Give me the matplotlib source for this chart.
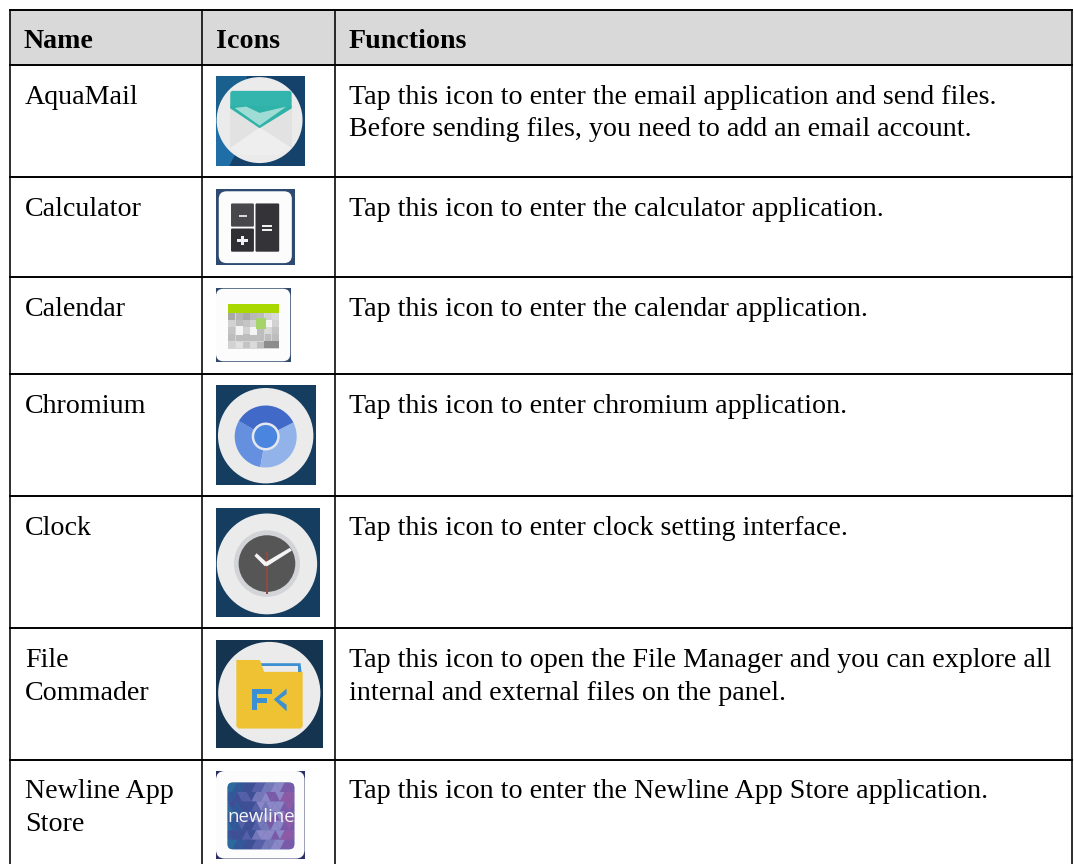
import matplotlib
matplotlib.use("Agg")
import matplotlib.pyplot as plt
from matplotlib.patches import Rectangle, Circle, Ellipse, Polygon, Wedge, FancyBboxPatch
from matplotlib.transforms import Affine2D

############## TABLE CONTENT ##############
headers = ["Name", "Icons", "Functions"]
names = ["AquaMail", "Calculator", "Calendar", "Chromium", "Clock",
         "File\nCommader", "Newline App\nStore"]
functions = [
    "Tap this icon to enter the email application and send files.\nBefore sending files, you need to add an email account.",
    "Tap this icon to enter the calculator application.",
    "Tap this icon to enter the calendar application.",
    "Tap this icon to enter chromium application.",
    "Tap this icon to enter clock setting interface.",
    "Tap this icon to open the File Manager and you can explore all\ninternal and external files on the panel.",
    "Tap this icon to enter the Newline App Store application.",
]

col_edges = [10, 202, 335, 1071.5]
row_edges = [10, 65, 177, 277, 374, 496, 628, 759.5, 870]
text_x = [25, 217, 349]
header_x = [24, 216, 349]

# x0, y0, x1, y1 of each icon picture
icon_boxes = [
    (216, 76, 305, 166),
    (216, 189, 295, 265),
    (216, 288, 291, 362),
    (216, 385, 316, 485),
    (216, 508, 320, 617),
    (216, 640, 323, 748),
    (216, 771, 305, 859),
]

FONT = "Liberation Serif"
FS = 20.2
LINE = 32.5

fig = plt.figure(figsize=(10.74, 8.64), dpi=100, facecolor="white")
ax = fig.add_axes([0, 0, 1, 1])
ax.set_xlim(0, 1074)
ax.set_ylim(864, 0)
ax.axis("off")


def unit(box):
    # icon shapes are drawn in 0..1 inside their box
    x0, y0, x1, y1 = box
    return Affine2D().scale(x1 - x0, y1 - y0).translate(x0, y0) + ax.transData


def add(tr, patch):
    patch.set_transform(tr)
    patch.set_linewidth(0)
    ax.add_patch(patch)
    return patch


def rrect(x, y, w, h, r, color):
    return FancyBboxPatch((x + r, y + r), w - 2 * r, h - 2 * r,
                          boxstyle=f"round,pad={r},rounding_size={r}", fc=color)


############## ICONS ##############
def aquamail(tr):
    add(tr, Rectangle((0, 0), 1, 1, fc="#15426b"))
    add(tr, Polygon([(0, 0), (0.35, 0), (0.2, 0.6), (0, 0.6)], fc="#19608f"))
    add(tr, Polygon([(0, 0.5), (0.3, 0.7), (0.15, 1), (0, 1)], fc="#1f6ea8"))
    add(tr, Ellipse((0.49, 0.49), 0.965, 0.955, fc="#ebebeb"))
    add(tr, Polygon([(0.16, 0.34), (0.85, 0.34), (0.85, 0.8), (0.16, 0.8)], fc="#e2e2e2"))
    add(tr, Polygon([(0.16, 0.8), (0.49, 0.57), (0.85, 0.8), (0.68, 0.88), (0.30, 0.88)], fc="#eeeeee"))
    add(tr, rrect(0.16, 0.165, 0.69, 0.2, 0.03, "#33b5ae"))
    add(tr, Polygon([(0.16, 0.33), (0.85, 0.33), (0.85, 0.36), (0.49, 0.58), (0.16, 0.36)], fc="#2fb3a8"))
    add(tr, Polygon([(0.21, 0.355), (0.34, 0.34), (0.49, 0.41), (0.66, 0.37), (0.79, 0.34), (0.49, 0.55)], fc="#a0dcd6"))


def calculator(tr):
    add(tr, Rectangle((0, 0), 1, 1, fc="#2d4a70"))
    add(tr, rrect(0.035, 0.03, 0.925, 0.945, 0.1, "#fcfcfc"))
    add(tr, rrect(0.19, 0.19, 0.29, 0.305, 0.015, "#48484c"))
    add(tr, rrect(0.19, 0.52, 0.29, 0.305, 0.015, "#303034"))
    add(tr, rrect(0.50, 0.19, 0.30, 0.635, 0.015, "#343438"))
    add(tr, Rectangle((0.285, 0.34), 0.105, 0.024, fc="#d8d8d8"))
    add(tr, Rectangle((0.27, 0.66), 0.13, 0.034, fc="#f0f0f0"))
    add(tr, Rectangle((0.32, 0.614), 0.035, 0.123, fc="#f0f0f0"))
    add(tr, Rectangle((0.578, 0.47), 0.135, 0.03, fc="#f0f0f0"))
    add(tr, Rectangle((0.578, 0.526), 0.135, 0.03, fc="#f0f0f0"))


def calendar(tr):
    add(tr, Rectangle((0, 0), 1, 1, fc="#2f4a6c"))
    add(tr, rrect(0.0, 0.01, 0.99, 0.98, 0.1, "#fcfcfc"))
    add(tr, Rectangle((0.165, 0.34), 0.675, 0.48, fc="#d6d6d6"))
    add(tr, Rectangle((0.165, 0.21), 0.675, 0.13, fc="#a8d800"))
    top_shades = ["#a8a8a8", "#b4b4b4", "#a8a8a8", "#b8b8b8", "#bcbcbc", "#d0d0d0", "#d8d8d8"]
    low_shades = ["#bdbdbd", "#c8c8c8", "#d2d2d2", "#e0e0e0", "#c4c4c4", "#dadada"]
    for c in range(7):
        add(tr, Rectangle((0.165 + c * 0.0965, 0.34), 0.092, 0.09, fc=top_shades[c]))
        for r in range(1, 5):
            add(tr, Rectangle((0.165 + c * 0.0965, 0.34 + r * 0.096), 0.092, 0.09,
                              fc=low_shades[(r * 2 + c * 3 + r * c) % 6]))
    add(tr, Rectangle((0.64, 0.715), 0.2, 0.09, fc="#8c8c8c"))
    add(tr, Rectangle((0.26, 0.52), 0.1, 0.11, fc="#f4f4f4"))
    add(tr, Rectangle((0.45, 0.53), 0.1, 0.11, fc="#f4f4f4"))
    add(tr, Rectangle((0.66, 0.43), 0.09, 0.1, fc="#f4f4f4"))
    add(tr, Rectangle((0.53, 0.41), 0.13, 0.15, fc="#a5d56a"))


def chromium(tr):
    add(tr, Rectangle((0, 0), 1, 1, fc="#153d5f"))
    add(tr, Circle((0.497, 0.507), 0.477, fc="#ebebeb"))
    add(tr, Wedge((0.497, 0.515), 0.31, 100, 210, fc="#6590e0"))
    add(tr, Wedge((0.497, 0.515), 0.31, 333, 460, fc="#92b3ea"))
    add(tr, Wedge((0.497, 0.515), 0.31, 210, 333, fc="#4169c8"))
    add(tr, Circle((0.497, 0.515), 0.14, fc="#e4e8ee"))
    add(tr, Circle((0.497, 0.515), 0.115, fc="#4a86e0"))


def clock(tr):
    add(tr, Rectangle((0, 0), 1, 1, fc="#153d5f"))
    add(tr, Ellipse((0.49, 0.513), 0.965, 0.925, fc="#ebebeb"))
    add(tr, Ellipse((0.49, 0.51), 0.635, 0.61, fc="#d2d4d8"))
    add(tr, Ellipse((0.49, 0.51), 0.545, 0.52, fc="#565656"))
    add(tr, Rectangle((0.477, 0.405), 0.026, 0.385, fc="#8c4a40"))
    add(tr, Polygon([(0.45, 0.512), (0.71, 0.365), (0.73, 0.39), (0.49, 0.535)], fc="#f4f4f4"))
    add(tr, Polygon([(0.37, 0.44), (0.39, 0.415), (0.50, 0.51), (0.47, 0.535)], fc="#f4f4f4"))


def file_commander(tr):
    add(tr, Rectangle((0, 0), 1, 1, fc="#15344f"))
    add(tr, Ellipse((0.498, 0.49), 0.955, 0.945, fc="#ebebeb"))
    add(tr, Polygon([(0.42, 0.215), (0.79, 0.215), (0.8, 0.3), (0.42, 0.3)], fc="#3c8fd0"))
    add(tr, Polygon([(0.43, 0.245), (0.77, 0.245), (0.77, 0.3), (0.43, 0.3)], fc="#ebebeb"))
    add(tr, Polygon([(0.19, 0.185), (0.41, 0.185), (0.45, 0.295), (0.81, 0.295),
                     (0.81, 0.8), (0.79, 0.82), (0.21, 0.82), (0.19, 0.8)], fc="#eec232"))
    add(tr, Rectangle((0.333, 0.45), 0.047, 0.2, fc="#3c8fd0"))
    add(tr, Rectangle((0.333, 0.45), 0.187, 0.046, fc="#3c8fd0"))
    add(tr, Rectangle((0.333, 0.535), 0.14, 0.044, fc="#3c8fd0"))
    add(tr, Polygon([(0.66, 0.45), (0.66, 0.5), (0.59, 0.55), (0.66, 0.6), (0.66, 0.66), (0.54, 0.55)], fc="#3c8fd0"))


def newline(tr):
    add(tr, Rectangle((0, 0), 1, 1, fc="#2a2f68"))
    add(tr, rrect(0.0, 0.0, 0.995, 0.995, 0.1, "#fcfcfc"))
    frame = add(tr, rrect(0.13, 0.13, 0.75, 0.76, 0.06, "#4a6aa8"))
    cols = ["#2b6a9c", "#33589a", "#3f4f95", "#5560a8", "#7478b8", "#8c88c8", "#7a5aa8", "#8f5aa5"]
    n = 7
    for r in range(n):
        for c in range(n):
            x, y = 0.13 + c * 0.75 / n, 0.13 + r * 0.76 / n
            w, h = 0.75 / n, 0.76 / n
            a = cols[min(7, (c + (r * c + r) % 3))]
            b = cols[min(7, (c + (r + 2 * c) % 2))]
            for pts, col in [([(x, y), (x + w, y), (x + w / 2, y + h)], a),
                             ([(x + w / 2, y + h), (x + w, y), (x + w * 1.5, y + h)], b),
                             ([(x - w / 2, y + h), (x, y), (x + w / 2, y + h)], b)]:
                p = add(tr, Polygon(pts, fc=col))
                p.set_clip_path(frame)
    ax.text(0.51, 0.525, "newline", transform=tr, color="#f4f4f4", fontsize=13.4,
            family="Open Sans", ha="center", va="center")


icon_funcs = [aquamail, calculator, calendar, chromium, clock, file_commander, newline]

############## TABLE ##############
ax.add_patch(Rectangle((col_edges[0], row_edges[0]), col_edges[-1] - col_edges[0],
                       row_edges[1] - row_edges[0], fc="#d9d9d9", lw=0))

for box, func in zip(icon_boxes, icon_funcs):
    func(unit(box))

for x in col_edges:
    ax.plot([x, x], [row_edges[0], row_edges[-1]], color="black", lw=1.15, solid_capstyle="butt")
for y in row_edges[:-1]:
    ax.plot([col_edges[0], col_edges[-1]], [y, y], color="black", lw=1.4, solid_capstyle="projecting")

for x, label in zip(header_x, headers):
    ax.text(x, row_edges[0] + 38, label, family=FONT, fontsize=FS, fontweight="bold",
            va="baseline", ha="left")

for i in range(len(names)):
    base = row_edges[i + 1] + 39
    for k, line in enumerate(names[i].split("\n")):
        ax.text(text_x[0], base + k * LINE, line, family=FONT, fontsize=FS, va="baseline", ha="left")
    for k, line in enumerate(functions[i].split("\n")):
        ax.text(text_x[2], base + k * LINE, line, family=FONT, fontsize=FS, va="baseline", ha="left")

fig.savefig("out.png", dpi=100)
